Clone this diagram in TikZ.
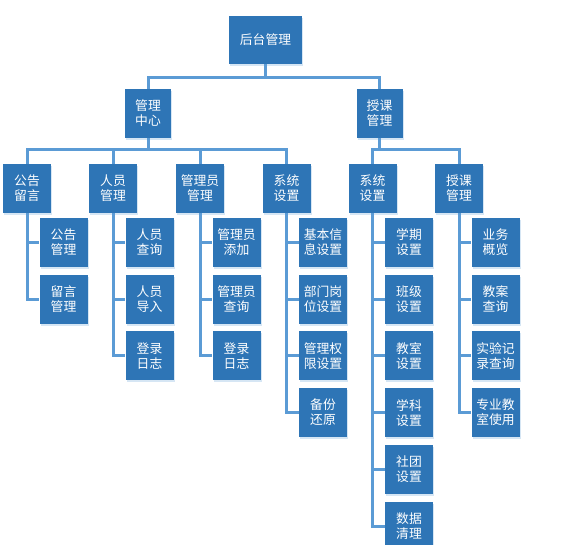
\documentclass[tikz,border=0pt]{standalone}
\usepackage{fontspec}
\newfontfamily\cjk{Noto Sans CJK SC}
\usepackage{tikz}
\usepackage{xcolor}
\usetikzlibrary{calc,positioning,shadows}
\definecolor{boxblue}{HTML}{2E75B6}
\definecolor{lineblue}{HTML}{5B9BD5}
\tikzset{
  box/.style={fill=boxblue, text=white, font=\cjk\fontsize{12.8}{15}\selectfont,
    align=center, inner sep=0pt, minimum width=48pt, minimum height=49pt,
    drop shadow={shadow xshift=1pt, shadow yshift=-2pt, fill=lineblue!25, opacity=1}},
  link/.style={draw=lineblue, line width=3pt}
}

\begin{document}
\begin{tikzpicture}[x=1pt, y=-1pt]
\useasboundingbox (0,0) rectangle (564,544);
\begin{scope}
\clip (0,0) rectangle (564,544);
  % bus lines
  \coordinate (bus1) at (0,77);
  \coordinate (bus2) at (0,149);

  \node[box, minimum width=73pt, minimum height=48pt] (root) at (265.5,40) {后台管理};
  \node[box, minimum width=46pt] (glzx) at (148,113.5) {管理\\中心};
  \node[box, minimum width=46pt] (skgl) at (379.5,113.5) {授课\\管理};

  \node[box] (ggly) at (27,188.5) {公告\\留言};
  \node[box] (rygl) at (113,188.5) {人员\\管理};
  \node[box] (glygl) at (200,188.5) {管理员\\管理};
  \node[box] (xtszA) at (286.5,188.5) {系统\\设置};
  \node[box] (xtszB) at (372.5,188.5) {系统\\设置};
  \node[box] (skglB) at (459,188.5) {授课\\管理};

  \node[box] (gggl) at (63.5,242.5) {公告\\管理};
  \node[box] (lygl) at (63.5,299.2) {留言\\管理};

  \node[box] (rycx) at (149.5,242.5) {人员\\查询};
  \node[box] (rydr) at (149.5,299.2) {人员\\导入};
  \node[box] (dlrzA) at (149.5,355.9) {登录\\日志};

  \node[box] (glytj) at (236.5,242.5) {管理员\\添加};
  \node[box] (glycx) at (236.5,299.2) {管理员\\查询};
  \node[box] (dlrzB) at (236.5,355.9) {登录\\日志};

  \node[box] (jbxx) at (323,242.5) {基本信\\息设置};
  \node[box] (bmgw) at (323,299.2) {部门岗\\位设置};
  \node[box] (glqx) at (323,355.9) {管理权\\限设置};
  \node[box] (bfhy) at (323,412.6) {备份\\还原};

  \node[box] (xqsz) at (409,242.5) {学期\\设置};
  \node[box] (bjsz) at (409,299.2) {班级\\设置};
  \node[box] (jssz) at (409,355.9) {教室\\设置};
  \node[box] (xksz) at (409,412.6) {学科\\设置};
  \node[box] (stsz) at (409,469.3) {社团\\设置};
  \node[box] (sjql) at (409,526) {数据\\清理};

  \node[box] (ywgl) at (495.5,242.5) {业务\\概览};
  \node[box] (jacx) at (495.5,299.2) {教案\\查询};
  \node[box] (syjl) at (495.5,355.9) {实验记\\录查询};
  \node[box] (zyjs) at (495.5,412.6) {专业教\\室使用};

  \draw[link] (root.south) -- (root.south |- bus1) -| (glzx.north);
  \draw[link] (root.south) -- (root.south |- bus1) -| (skgl.north);

  \foreach \c in {ggly,rygl,glygl,xtszA}
    \draw[link] (glzx.south) -- (glzx.south |- bus2) -| (\c.north);
  \foreach \c in {xtszB,skglB}
    \draw[link] (skgl.south) -- (skgl.south |- bus2) -| (\c.north);

  \foreach \c in {gggl,lygl}
    \draw[link] (ggly.south) |- (\c.west);
  \foreach \c in {rycx,rydr,dlrzA}
    \draw[link] (rygl.south) |- (\c.west);
  \foreach \c in {glytj,glycx,dlrzB}
    \draw[link] (glygl.south) |- (\c.west);
  \foreach \c in {jbxx,bmgw,glqx,bfhy}
    \draw[link] (xtszA.south) |- (\c.west);
  \foreach \c in {xqsz,bjsz,jssz,xksz,stsz,sjql}
    \draw[link] (xtszB.south) |- (\c.west);
  \foreach \c in {ywgl,jacx,syjl,zyjs}
    \draw[link] (skglB.south) |- (\c.west);
\end{scope}
\end{tikzpicture}
\end{document}
